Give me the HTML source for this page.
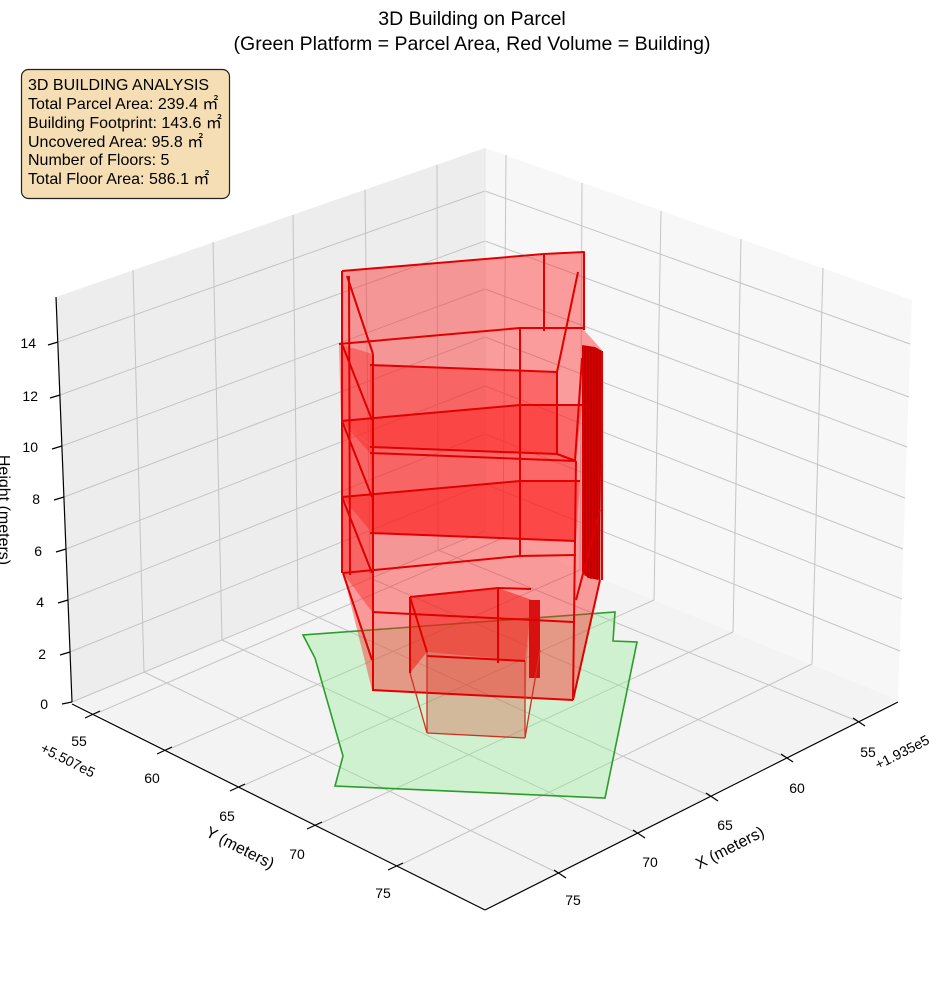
<!DOCTYPE html>
<html><head><meta charset="utf-8"><style>
html,body{margin:0;padding:0;background:#fff}
svg{display:block;font-family:"Liberation Sans","DejaVu Sans",sans-serif}
</style></head><body>
<svg width="944" height="992" viewBox="0 0 944 992" xmlns="http://www.w3.org/2000/svg">
<polygon points="72,702 56,297 485,148 485,531" fill="#ededed"/>
<polygon points="485,531 485,148 912,300 898,700" fill="#f7f7f7"/>
<polygon points="72,702 485,531 898,700 485,910" fill="#f3f3f3"/>
<g stroke="#c4c4c4" stroke-width="1" fill="none">
<line x1="72" y1="702" x2="485" y2="531"/><line x1="70" y1="652" x2="485" y2="484"/>
<line x1="68" y1="600" x2="485" y2="434"/><line x1="66" y1="549" x2="485" y2="386"/>
<line x1="64" y1="497" x2="485" y2="337"/><line x1="62" y1="446" x2="485" y2="289"/>
<line x1="60" y1="395" x2="485" y2="241"/><line x1="58" y1="342" x2="485" y2="191"/>
<line x1="485" y1="484" x2="900" y2="651"/><line x1="485" y1="434" x2="902" y2="599"/>
<line x1="485" y1="386" x2="903" y2="549"/><line x1="485" y1="337" x2="905" y2="498"/>
<line x1="485" y1="289" x2="907" y2="447"/><line x1="485" y1="241" x2="909" y2="397"/>
<line x1="485" y1="191" x2="910" y2="344"/>
<line x1="133" y1="270" x2="144" y2="672"/><line x1="213" y1="242" x2="222" y2="640"/>
<line x1="293" y1="215" x2="298" y2="608"/><line x1="365" y1="190" x2="370" y2="578"/>
<line x1="437" y1="165" x2="438" y2="550"/>
<line x1="506" y1="155" x2="503" y2="538"/><line x1="582" y1="183" x2="580" y2="570"/>
<line x1="661" y1="211" x2="654" y2="600"/><line x1="741" y1="239" x2="733" y2="632"/>
<line x1="823" y1="268" x2="812" y2="664"/>
<line x1="95" y1="714" x2="503" y2="538"/><line x1="167" y1="750" x2="580" y2="570"/>
<line x1="240" y1="787" x2="654" y2="600"/><line x1="317" y1="825" x2="733" y2="632"/>
<line x1="398" y1="866" x2="812" y2="664"/>
<line x1="144" y1="672" x2="558" y2="873"/><line x1="222" y1="640" x2="637" y2="833"/>
<line x1="298" y1="608" x2="710" y2="796"/><line x1="370" y1="578" x2="785" y2="757"/>
<line x1="438" y1="550" x2="857" y2="721"/>
</g>
<g stroke="#e6e6e6" stroke-width="1"><line x1="485" y1="148" x2="485" y2="531"/></g>
<g stroke="#000" stroke-width="1.2" fill="none">
<line x1="56" y1="297" x2="72" y2="702"/>
<line x1="72" y1="704" x2="485" y2="910"/>
<line x1="485" y1="910" x2="898" y2="702"/>
<line x1="72" y1="702" x2="62" y2="704"/><line x1="70" y1="652" x2="60" y2="655"/>
<line x1="68" y1="600" x2="58" y2="603"/><line x1="66" y1="549" x2="56" y2="552"/>
<line x1="64" y1="497" x2="54" y2="500"/><line x1="62" y1="446" x2="52" y2="449"/>
<line x1="60" y1="395" x2="50" y2="398"/><line x1="58" y1="342" x2="48" y2="345"/>
<line x1="85" y1="718" x2="100" y2="711"/><line x1="157" y1="754" x2="172" y2="747"/>
<line x1="230" y1="791" x2="245" y2="784"/><line x1="307" y1="829" x2="322" y2="822"/>
<line x1="388" y1="870" x2="403" y2="863"/>
<line x1="853" y1="718" x2="865" y2="726"/><line x1="781" y1="754" x2="793" y2="762"/>
<line x1="706" y1="793" x2="718" y2="801"/><line x1="633" y1="830" x2="645" y2="838"/>
<line x1="554" y1="870" x2="566" y2="878"/>
</g>
<polygon points="303,635 315,658 343,756 335,786 605,798 637,642 613,641 615,612" fill="rgba(144,238,144,0.35)" stroke="#2a9d2a" stroke-width="1.6"/>
<polygon points="342,271 584,252 584,330 602,350 600,580 573,700 372,690 343,573" fill="rgba(255,30,30,0.42)"/>
<polygon points="410,598 498,588 532,600 527,660 524,738 427,733 427,652 410,673" fill="rgba(220,40,20,0.28)"/>
<g fill="rgba(255,20,20,0.38)">
<polygon points="370,365 557,372 557,454 370,447"/>
<polygon points="370,453 576,461 576,541 372,533"/>
<polygon points="339,344 373,354 373,447 341,421"/>
<polygon points="341,421 372,447 372,533 342,497"/>
<polygon points="342,497 372,533 372,612 343,573"/>
<polygon points="341,421 520,405 582,405 576,461 370,453"/>
<polygon points="342,497 520,481 580,481 576,541 372,533"/>
<polygon points="410,598 498,588 532,600 525,661 427,652 410,673"/>
</g>
<polygon points="582,345 595,347 602,351 600,580 588,578 582,572" fill="#d80000"/>
<g stroke="#a00000" stroke-width="0.8">
<line x1="585" y1="346" x2="585" y2="576"/><line x1="588" y1="346" x2="588" y2="578"/>
<line x1="591" y1="347" x2="591" y2="579"/><line x1="594" y1="347" x2="594" y2="579"/>
<line x1="597" y1="348" x2="597" y2="580"/><line x1="600" y1="350" x2="600" y2="580"/>
</g>
<rect x="529" y="600" width="11" height="78" fill="#d81010"/>
<g stroke="#e00000" stroke-width="2" fill="none" stroke-linejoin="round">
<polyline points="342,271 544,254 584,252 584,330"/>
<line x1="342" y1="271" x2="342" y2="573"/>
<line x1="349" y1="276" x2="350" y2="575"/>
<line x1="544" y1="254" x2="544" y2="331"/>
<line x1="347" y1="276" x2="373" y2="354"/>
<line x1="578" y1="272" x2="557" y2="372"/>
<polyline points="339,344 520,328 583,328"/>
<line x1="370" y1="365" x2="557" y2="372"/>
<line x1="373" y1="354" x2="373" y2="690"/>
<line x1="370" y1="447" x2="557" y2="454"/>
<line x1="557" y1="372" x2="557" y2="454"/>
<line x1="557" y1="454" x2="576" y2="461"/>
<polyline points="341,421 520,405 582,405"/>
<line x1="342" y1="344" x2="372" y2="420"/>
<line x1="342" y1="421" x2="372" y2="497"/>
<line x1="342" y1="497" x2="372" y2="573"/>
<line x1="343" y1="573" x2="372" y2="660"/>
<line x1="520" y1="328" x2="520" y2="556"/>
<line x1="370" y1="453" x2="576" y2="461"/>
<line x1="576" y1="461" x2="573" y2="700"/>
<polyline points="342,497 520,481 580,481"/>
<line x1="370" y1="533" x2="576" y2="541"/>
<polyline points="343,573 520,556 576,555"/>
<line x1="582" y1="358" x2="575" y2="461"/>
<line x1="600" y1="510" x2="576" y2="600"/>
<line x1="602" y1="351" x2="602" y2="580"/>
<line x1="600" y1="580" x2="573" y2="700"/>
<line x1="372" y1="612" x2="573" y2="622"/>
<line x1="372" y1="690" x2="573" y2="700"/>
<polyline points="410,597 498,588 531,589"/>
<line x1="410" y1="597" x2="410" y2="673"/>
<line x1="410" y1="597" x2="427" y2="652"/>
<line x1="498" y1="588" x2="498" y2="663"/>
<line x1="427" y1="656" x2="525" y2="661"/>
</g>
<g stroke="#d03020" stroke-width="1.3" fill="none">
<line x1="427" y1="652" x2="427" y2="733"/>
<line x1="427" y1="733" x2="525" y2="738"/>
<line x1="525" y1="661" x2="525" y2="738"/>
<line x1="410" y1="673" x2="427" y2="733"/>
<line x1="540" y1="650" x2="525" y2="738"/>
</g>
<g font-size="14" fill="#000">
<g text-anchor="end">
<text x="48" y="709">0</text><text x="46" y="659">2</text><text x="44" y="607">4</text>
<text x="42" y="556">6</text><text x="40" y="504">8</text><text x="38" y="452">10</text>
<text x="38" y="401">12</text><text x="36" y="348">14</text>
</g>
<g text-anchor="middle">
<text x="79" y="746">55</text><text x="152" y="783">60</text><text x="227" y="821">65</text>
<text x="297" y="859">70</text><text x="383" y="898">75</text>
<text x="868" y="757">55</text><text x="797" y="793">60</text><text x="725" y="830">65</text>
<text x="650" y="867">70</text><text x="573" y="905">75</text>
</g>
<text x="68" y="765" text-anchor="middle" transform="rotate(27 68 760)">+5.507e5</text>
<text x="902" y="757" text-anchor="middle" transform="rotate(-27 902 752)">+1.935e5</text>
<text x="240" y="853" font-size="16" text-anchor="middle" transform="rotate(27 240 848)">Y (meters)</text>
<text x="730" y="853" font-size="16" text-anchor="middle" transform="rotate(-27 730 848)">X (meters)</text>
<text x="0" y="0" font-size="16" text-anchor="middle" transform="translate(-1 510) rotate(90)">Height (meters)</text>
</g>
<g font-size="19.5" text-anchor="middle" fill="#000">
<text x="472" y="25">3D Building on Parcel</text>
<text x="472" y="50">(Green Platform = Parcel Area, Red Volume = Building)</text>
</g>
<rect x="21.5" y="69.5" width="208" height="129" rx="7" fill="#f5deb3" stroke="#222" stroke-width="1.2"/>
<g font-size="16" fill="#000">
<text x="28" y="90">3D BUILDING ANALYSIS</text>
<text x="28" y="109">Total Parcel Area: 239.4 ㎡</text>
<text x="28" y="128">Building Footprint: 143.6 ㎡</text>
<text x="28" y="147">Uncovered Area: 95.8 ㎡</text>
<text x="28" y="165">Number of Floors: 5</text>
<text x="28" y="184">Total Floor Area: 586.1 ㎡</text>
</g>
</svg>
</body></html>
